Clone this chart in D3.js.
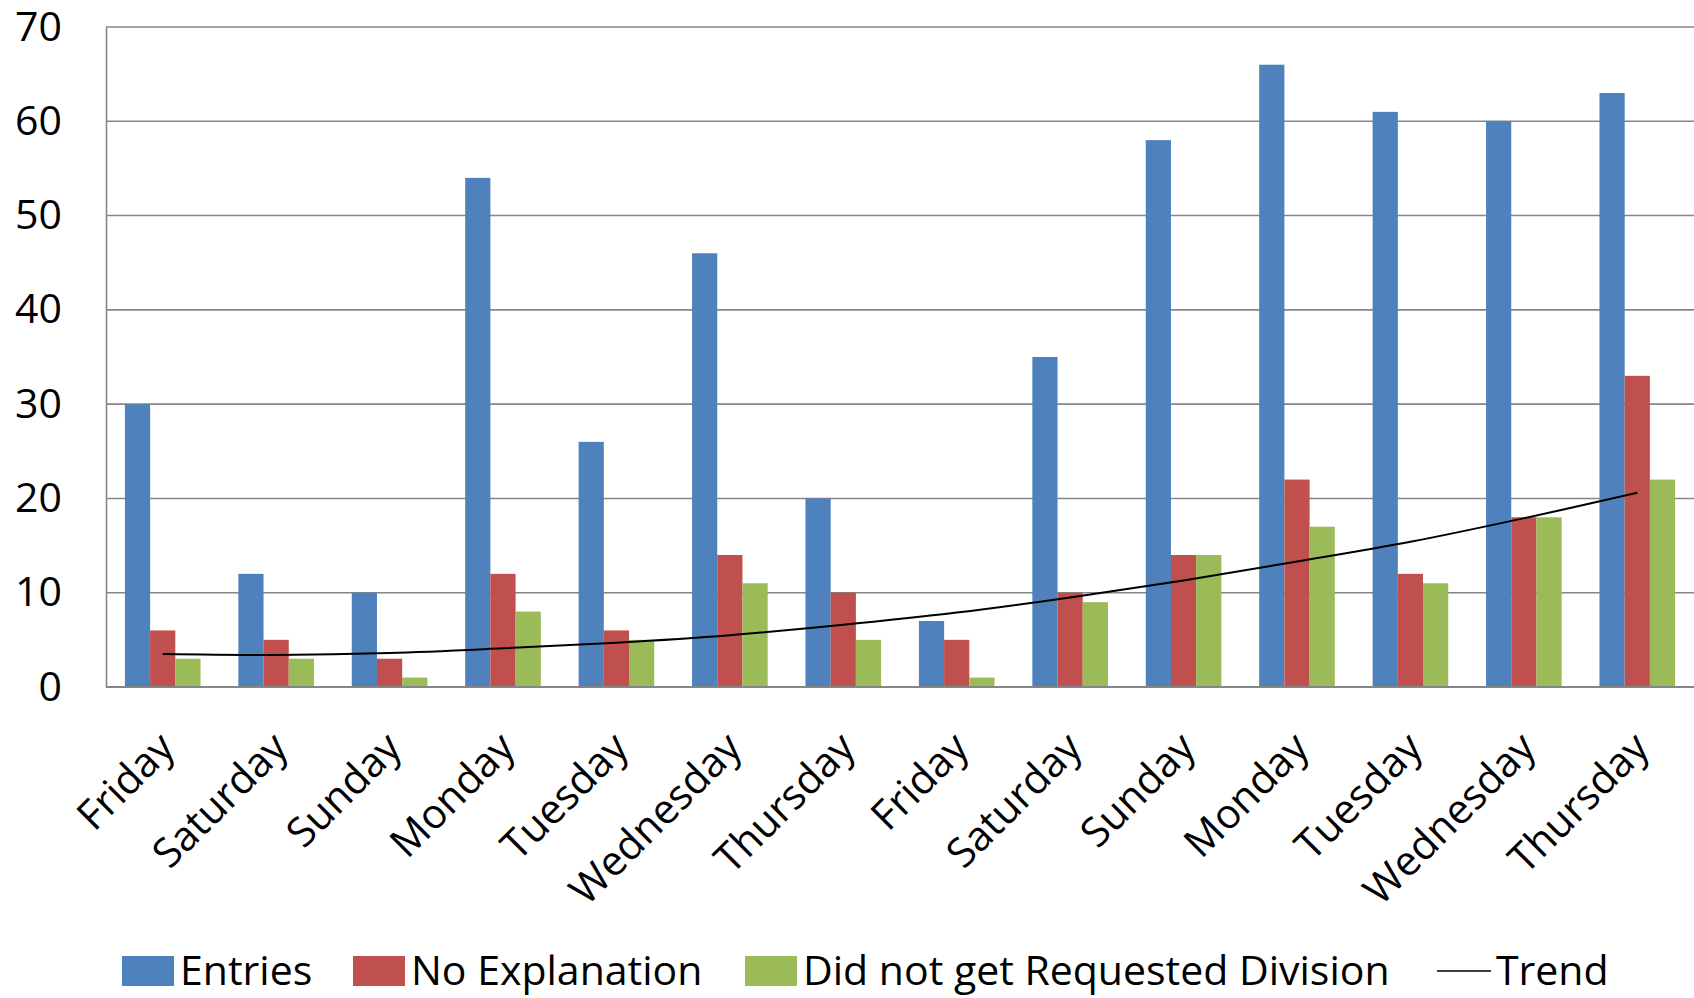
<!DOCTYPE html>
<html>
<head>
<meta charset="utf-8">
<script src="https://cdn.jsdelivr.net/npm/d3@7"></script>
<style>
  html,body{margin:0;padding:0;background:#fff;}
  svg{display:block;font-family:"Open Sans",sans-serif;}
</style>
</head>
<body>
<div id="chart"></div>
<script>
const days=["Friday","Saturday","Sunday","Monday","Tuesday","Wednesday","Thursday","Friday","Saturday","Sunday","Monday","Tuesday","Wednesday","Thursday"];
const entries=[30,12,10,54,26,46,20,7,35,58,66,61,60,63];
const noExplanation=[6,5,3,12,6,14,10,5,10,14,22,12,18,33];
const noDivision=[3,3,1,8,5,11,5,1,9,14,17,11,18,22];
const trend=[3.5,3.4,3.6,4.1,4.7,5.5,6.6,7.9,9.5,11.3,13.3,15.4,17.9,20.6];
const seriesNames=["Entries","No Explanation","Did not get Requested Division"];
const colors=["#4f81bd","#c0504d","#9bbb59"];
const yTicks=[0,10,20,30,40,50,60,70];

(function(){
  const W=1694,H=998;
  const m={top:27,right:0,bottom:311,left:106},w=W-m.left-m.right,ih=H-m.top-m.bottom;
  const svg=d3.select("#chart").append("svg").attr("width",W).attr("height",H);
  const g=svg.append("g").attr("transform",`translate(${m.left},${m.top})`);
  const idx=days.map((d,i)=>i);
  const x=d3.scaleBand().domain(idx).range([0,w]).paddingInner(0).paddingOuter(0);
  const x1=d3.scaleBand().domain([0,1,2]).range([0,x.bandwidth()]).paddingInner(0).paddingOuter(0.75);
  const y=d3.scaleLinear().domain([0,70]).range([ih,0]);

  // grid
  g.append("g").selectAll("line").data(yTicks.filter(t=>t>0)).join("line")
    .attr("x1",0).attr("x2",w).attr("y1",d=>y(d)).attr("y2",d=>y(d))
    .attr("stroke","#868686").attr("stroke-width",1.6);

  // bars
  const series=[entries,noExplanation,noDivision];
  const grp=g.append("g").selectAll("g").data(idx).join("g")
    .attr("transform",i=>`translate(${x(i)},0)`);
  grp.selectAll("rect").data(i=>series.map((s,k)=>({k,v:s[i]}))).join("rect")
    .attr("x",d=>x1(d.k)).attr("width",x1.bandwidth())
    .attr("y",d=>y(d.v)).attr("height",d=>ih-y(d.v))
    .attr("fill",d=>colors[d.k]);

  // trend
  const line=d3.line().x((d,i)=>x(i)+x.bandwidth()/2).y(d=>y(d)).curve(d3.curveCatmullRom);
  g.append("path").datum(trend).attr("d",line).attr("fill","none").attr("stroke","#000").attr("stroke-width",2);

  // axes
  const ya=g.append("g").call(d3.axisLeft(y).tickValues(yTicks).tickSize(0).tickPadding(44));
  ya.select(".domain").attr("stroke","#868686").attr("stroke-width",1.6);
  ya.selectAll("text").attr("font-size",41).attr("fill","#000").attr("font-family","Open Sans");

  g.append("line").attr("x1",0).attr("x2",w).attr("y1",ih).attr("y2",ih)
    .attr("stroke","#868686").attr("stroke-width",1.8);

  g.append("g").selectAll("text").data(idx).join("text")
    .attr("transform",i=>`translate(${x(i)+x.bandwidth()/2+14},${ih+63}) rotate(-45)`)
    .attr("text-anchor","end").attr("font-size",41).attr("fill","#000")
    .text(i=>days[i]);

  // legend
  const leg=svg.append("g").attr("transform",`translate(0,${971})`);
  const items=[
    {t:seriesNames[0],c:colors[0],x:122},
    {t:seriesNames[1],c:colors[1],x:353},
    {t:seriesNames[2],c:colors[2],x:745},
    {t:"Trend",c:null,x:1437}
  ];
  items.forEach(it=>{
    if(it.c){
      leg.append("rect").attr("x",it.x).attr("y",-15).attr("width",52).attr("height",30).attr("fill",it.c);
    }else{
      leg.append("line").attr("x1",it.x).attr("x2",it.x+54).attr("y1",0).attr("y2",0).attr("stroke","#000").attr("stroke-width",1.5);
    }
    leg.append("text").attr("x",it.x+(it.c?58:59)).attr("y",0).attr("dy","0.35em")
      .attr("font-size",41).attr("fill","#000").text(it.t);
  });
})();
</script>
</body>
</html>
